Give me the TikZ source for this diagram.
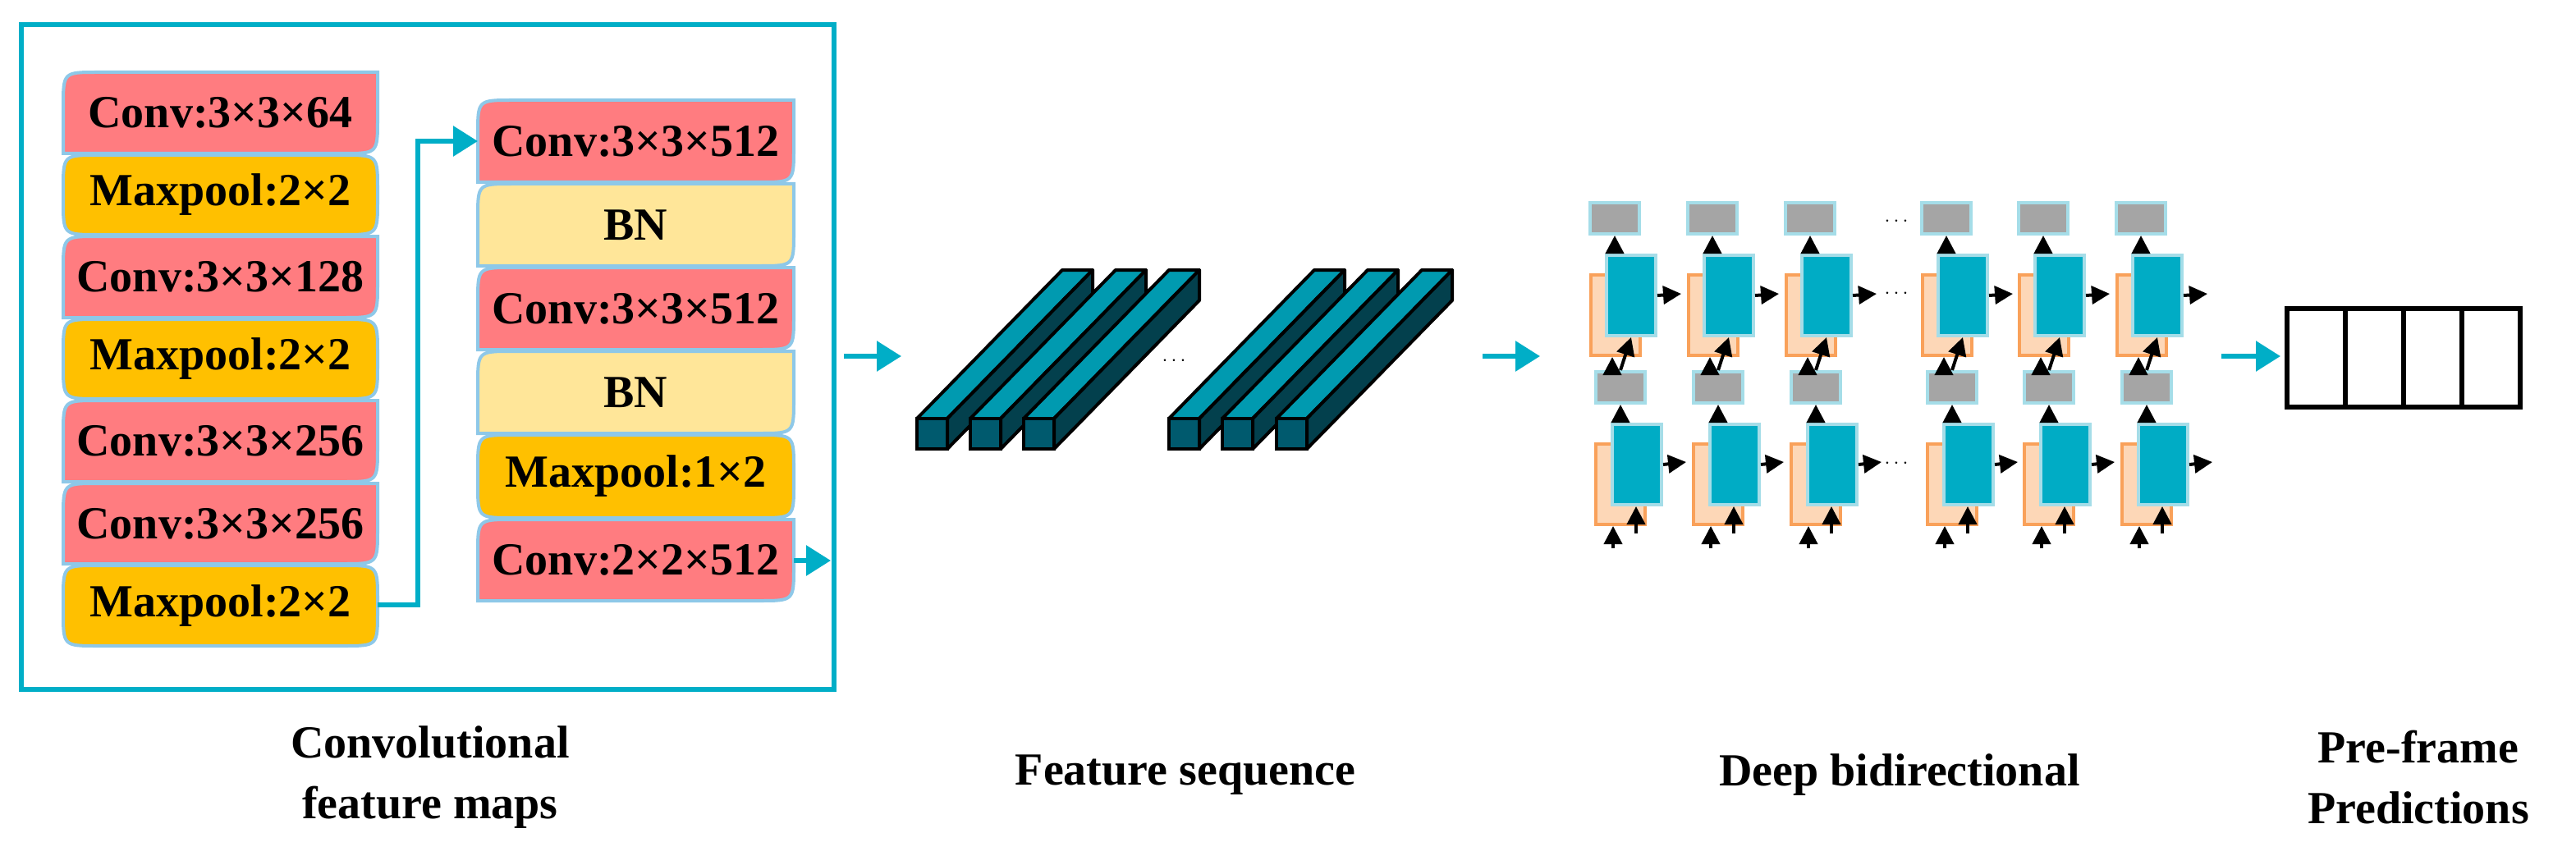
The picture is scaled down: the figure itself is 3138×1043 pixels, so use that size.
\documentclass[tikz,border=0pt]{standalone}
\usepackage{fontspec}
\setmainfont{Liberation Serif}
\usetikzlibrary{arrows.meta}
\definecolor{cy}{HTML}{00AEC7}
\definecolor{bd}{HTML}{8EC8E8}
\definecolor{pk}{HTML}{FF7C80}
\definecolor{mp}{HTML}{FFC000}
\definecolor{bn}{HTML}{FFE699}
\definecolor{tl}{HTML}{00ACC5}
\definecolor{tlb}{HTML}{A5DDE8}
\definecolor{orf}{HTML}{FDD7B7}
\definecolor{orb}{HTML}{F9A15A}
\definecolor{gy}{HTML}{A5A5A5}
\definecolor{fr}{HTML}{005A6E}
\definecolor{tp}{HTML}{009AB0}
\definecolor{sd}{HTML}{03404D}
\newcommand\cvbox[7]{%
 \draw[line width=4pt,draw=bd,fill=#5] (#1,#4) -- (#1,{#2+42}) .. controls (#1,#2) .. ({#1+42},#2) -- (#3,#2) -- (#3,{#4-42}) .. controls (#3,#4) .. ({#3-42},#4) -- cycle;
 \node[lab] (#7) at ({(#1+#3)/2},{(#2+#4)/2}) {#6};}
\newcommand\mpbox[7]{%
 \draw[line width=4pt,draw=bd,fill=#5] (#1,{#4-42}) -- (#1,{#2+42}) .. controls (#1,#2) .. ({#1+42},#2) -- ({#3-42},#2) .. controls (#3,#2) .. (#3,{#2+42}) -- (#3,{#4-42}) .. controls (#3,#4) .. ({#3-42},#4) -- ({#1+42},#4) .. controls (#1,#4) .. (#1,{#4-42}) -- cycle;
 \node[lab] (#7) at ({(#1+#3)/2},{(#2+#4)/2}) {#6};}
\newcommand\fbar[1]{%
 \draw[line width=4pt,fill=tp,line join=round] (#1,510) -- ({#1+177},329) -- ({#1+214},329) -- ({#1+37},510) -- cycle;
 \draw[line width=4pt,fill=sd,line join=round] ({#1+37},510) -- ({#1+214},329) -- ({#1+214},366) -- ({#1+37},547) -- cycle;
 \draw[line width=4pt,fill=fr] (#1,510) rectangle ({#1+37},547);}
\begin{document}
\begin{tikzpicture}[x=1pt,y=-1pt,
 lab/.style={font=\fontsize{56}{60}\selectfont\bfseries,inner sep=0pt},
 captxt/.style={font=\fontsize{56}{74}\selectfont\bfseries,align=center,inner sep=0pt},
 carr/.style={line width=6pt,draw=cy,-{Triangle[length=30pt,width=36pt,fill=cy]}},
 barr/.style={line width=4pt,-{Triangle[length=22pt,width=22pt]}},
 gbox/.style={draw=tlb,line width=4pt,fill=gy,minimum width=60pt,minimum height=38pt,anchor=north west,inner sep=0pt},
 tbox/.style={draw=tlb,line width=4pt,fill=tl,minimum width=60pt,minimum height=98pt,anchor=north west,inner sep=0pt},
 obox/.style={draw=orb,line width=4pt,fill=orf,minimum width=60pt,minimum height=98pt,anchor=north west,inner sep=0pt}]
\useasboundingbox (0,0) rectangle (3138,1043);
% frame
\draw[line width=6pt,draw=cy] (26,30) rectangle (1016,840);
% left column
\cvbox{77}{88}{460}{187}{pk}{Conv:3×3×64}{a1}
\mpbox{77}{189}{460}{286}{mp}{Maxpool:2×2}{a2}
\cvbox{77}{288}{460}{387}{pk}{Conv:3×3×128}{a3}
\mpbox{77}{389}{460}{486}{mp}{Maxpool:2×2}{a4}
\cvbox{77}{488}{460}{587}{pk}{Conv:3×3×256}{a5}
\cvbox{77}{589}{460}{687}{pk}{Conv:3×3×256}{a6}
\mpbox{77}{689}{460}{787}{mp}{Maxpool:2×2}{a7}
% right column
\cvbox{582}{122}{967}{222}{pk}{Conv:3×3×512}{b1}
\cvbox{582}{224}{967}{324}{bn}{BN}{b2}
\cvbox{582}{326}{967}{426}{pk}{Conv:3×3×512}{b3}
\cvbox{582}{428}{967}{528}{bn}{BN}{b4}
\mpbox{582}{530}{967}{631}{mp}{Maxpool:1×2}{b5}
\cvbox{582}{633}{967}{732}{pk}{Conv:2×2×512}{b6}
\coordinate (a7e) at (460,737);
\coordinate (b1w) at (582,172);
\coordinate (b6e) at (967,683);
\coordinate (fo) at (1012,683);
\draw[carr] (a7e) -- (509,737) |- (b1w);
\draw[carr] (b6e) -- (fo);
% arrow 1
\coordinate (r1s) at (1028,434); \coordinate (r1e) at (1098,434);
\draw[carr] (r1s) -- (r1e);
% feature bars
\fbar{1117}\fbar{1182}\fbar{1247}
\fbar{1424}\fbar{1489}\fbar{1555}
\node[font=\fontsize{40}{40}\selectfont] (fd) at (1430,440) {$\cdots$};
% arrow 2
\coordinate (r2s) at (1806,434); \coordinate (r2e) at (1876,434);
\draw[carr] (r2s) -- (r2e);
% LSTM
\foreach \L [count=\i] in {1935,2054,2173,2339,2457,2576}{
 \node[obox] (ou\i) at ({\L+1},333) {};
 \node[tbox] (tu\i) at ({\L+20},309) {};
 \node[gbox] (gt\i) at (\L,245) {};
 \node[gbox] (gm\i) at ({\L+7},451) {};
 \node[obox] (ol\i) at ({\L+7},539) {};
 \node[tbox] (tl\i) at ({\L+27},515) {};
 \coordinate (ru\i) at ({\L+113},358);
 \coordinate (rl\i) at ({\L+119},563);
 \coordinate (bo\i) at ({\L+30},668);
 \coordinate (bt\i) at ({\L+58},650);
 \draw[barr] (tu\i.east) -- (ru\i);
 \draw[barr] (tl\i.east) -- (rl\i);
 \draw[barr] (tu\i.north -| gt\i.south) -- (gt\i.south);
 \draw[barr] (tl\i.north -| gm\i.south) -- (gm\i.south);
 \draw[barr] (gm\i.north) -- (tu\i.south);
 \draw[barr] (gm\i.north west) ++(22,0) coordinate (gmx\i) -- (gmx\i |- ou\i.south);
 \draw[barr] (bo\i) -- (bo\i |- ol\i.south);
 \draw[barr] (bt\i) -- (bt\i |- tl\i.south);
}
\node[font=\fontsize{40}{40}\selectfont] (d1) at (2310,270) {$\cdots$};
\node[font=\fontsize{40}{40}\selectfont] (d2) at (2310,358) {$\cdots$};
\node[font=\fontsize{40}{40}\selectfont] (d3) at (2310,565) {$\cdots$};
% arrow 3
\coordinate (r3s) at (2706,434); \coordinate (r3e) at (2778,434);
\draw[carr] (r3s) -- (r3e);
% predictions
\draw[line width=6pt] (2786,376) rectangle (3070,496);
\foreach \x in {2857,2928,2999}{\draw[line width=6pt] (\x,376) -- (\x,496);}
% captions
\node[captxt] (c1) at (524,947) {Convolutional\\feature maps};
\node[captxt] (c2) at (1444,944) {Feature sequence};
\node[captxt] (c3) at (2314,944) {Deep bidirectional};
\node[captxt] (c4) at (2946,947) {Pre-frame\\Predictions};
\end{tikzpicture}
\end{document}
